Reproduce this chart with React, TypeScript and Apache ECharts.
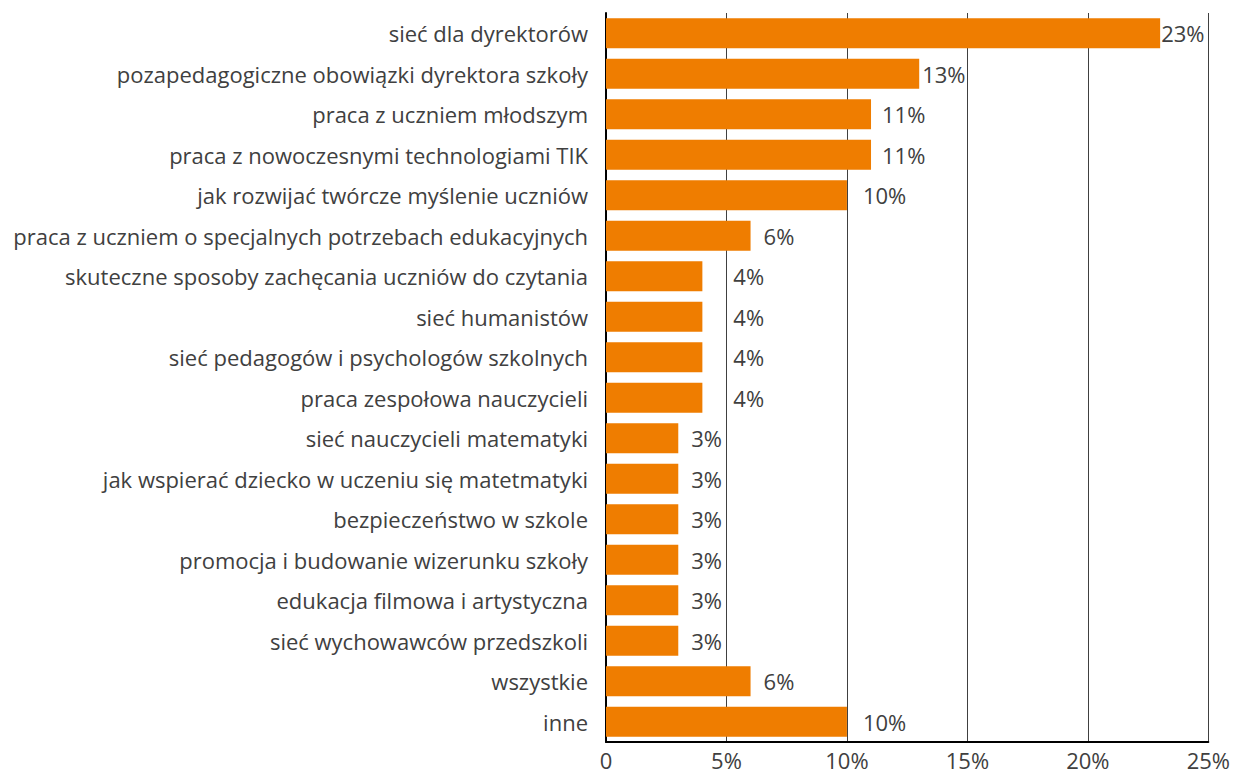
import React, { useEffect, useRef } from "react";
import * as echarts from "echarts";

const categories = [
  "sieć dla dyrektorów",
  "pozapedagogiczne obowiązki dyrektora szkoły",
  "praca z uczniem młodszym",
  "praca z nowoczesnymi technologiami TIK",
  "jak rozwijać twórcze myślenie uczniów",
  "praca z uczniem o specjalnych potrzebach edukacyjnych",
  "skuteczne sposoby zachęcania uczniów do czytania",
  "sieć humanistów",
  "sieć pedagogów i psychologów szkolnych",
  "praca zespołowa nauczycieli",
  "sieć nauczycieli matematyki",
  "jak wspierać dziecko w uczeniu się matetmatyki",
  "bezpieczeństwo w szkole",
  "promocja i budowanie wizerunku szkoły",
  "edukacja filmowa i artystyczna",
  "sieć wychowawców przedszkoli",
  "wszystkie",
  "inne",
];

const values = [23, 13, 11, 11, 10, 6, 4, 4, 4, 4, 3, 3, 3, 3, 3, 3, 6, 10];

const xTicks = [0, 5, 10, 15, 20, 25];

// label gaps from bar end (style only)
const labelGaps = [1, 3, 11, 11, 16, 13, 31, 31, 31, 31, 13, 13, 13, 13, 13, 13, 13, 16];

const FONT = "'Open Sans', 'Noto Sans', sans-serif";
const TEXT = "#404040";

export default function App() {
  const ref = useRef<HTMLDivElement>(null);
  useEffect(() => {
    const chart = echarts.init(ref.current!, undefined, { renderer: "svg" });
    chart.setOption({
      animation: false,
      grid: { left: 606, right: 24, top: 13, bottom: 36, containLabel: false },
      xAxis: {
        type: "value",
        min: xTicks[0],
        max: xTicks[xTicks.length - 1],
        interval: 5,
        axisLine: { show: true, onZero: false, lineStyle: { color: "#000", width: 2 } },
        axisTick: { show: false },
        splitLine: { show: true, lineStyle: { color: "#404040", width: 1 } },
        axisLabel: {
          color: TEXT,
          fontFamily: FONT,
          fontSize: 22,
          margin: 7,
          formatter: (v: number) => (v === 0 ? "0" : v + "%"),
        },
      },
      yAxis: {
        type: "category",
        inverse: true,
        data: categories,
        axisLine: { show: true, lineStyle: { color: "#000", width: 2 } },
        axisTick: { show: false },
        axisLabel: { color: TEXT, fontFamily: FONT, fontSize: 22, margin: 18 },
      },
      series: [
        {
          type: "bar",
          barCategoryGap: "26%",
          itemStyle: { color: "#EF7D00" },
          data: values.map((v, i) => ({
            value: v,
            label: {
              show: true,
              position: "right",
              distance: labelGaps[i],
              formatter: "{c}%",
              color: TEXT,
              fontFamily: FONT,
              fontSize: 22,
            },
          })),
        },
      ],
    });
    return () => chart.dispose();
  }, []);
  return <div ref={ref} style={{ width: 1233, height: 778, position: "absolute", left: 0, top: 0 }} />;
}
